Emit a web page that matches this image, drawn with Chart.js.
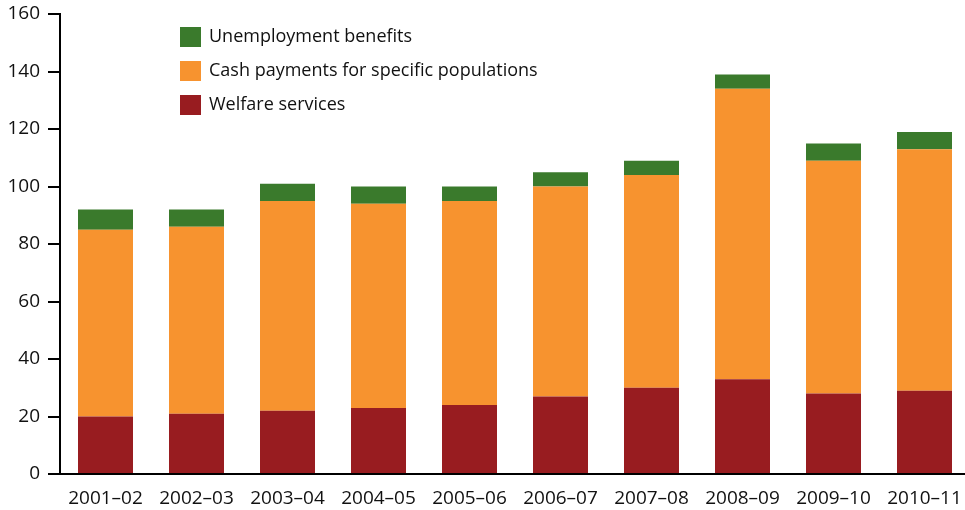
<!DOCTYPE html>
<html>
<head>
<meta charset="utf-8">
<script src="https://cdn.jsdelivr.net/npm/chart.js@4.4.1/dist/chart.umd.min.js"></script>
<style>
  html, body { margin: 0; padding: 0; background: #fff; overflow: hidden; }
  #wrap { width: 965px; height: 510px; overflow: hidden; }
</style>
</head>
<body>
<div id="wrap"><canvas id="myChart" width="970" height="510"></canvas></div>
<script>
const years = ["2001–02", "2002–03", "2003–04", "2004–05", "2005–06", "2006–07", "2007–08", "2008–09", "2009–10", "2010–11"];
const welfareServices = [20, 21, 22, 23, 24, 27, 30, 33, 28, 29];
const cashPayments = [65, 65, 73, 71, 71, 73, 74, 101, 81, 84];
const unemploymentBenefits = [7, 6, 6, 6, 5, 5, 5, 5, 6, 6];
const yTicks = [0, 20, 40, 60, 80, 100, 120, 140, 160];

const FONT = "'Open Sans', 'Noto Sans', sans-serif";

// legend drawn as a stacked list in the top-left of the plot
const stackLegend = {
    id: 'stackLegend',
    afterDraw(chart) {
        const ctx = chart.ctx;
        const sets = chart.data.datasets.slice().reverse();
        ctx.save();
        ctx.font = "18px " + FONT;
        ctx.textBaseline = 'middle';
        sets.forEach((ds, i) => {
            const y = 37 + i * 34;
            ctx.fillStyle = ds.backgroundColor;
            ctx.fillRect(180, y - 10, 21, 20);
            ctx.fillStyle = '#111';
            ctx.fillText(ds.label, 209, y);
        });
        ctx.restore();
    }
};

let ctxEL = document.getElementById("myChart").getContext('2d');
new Chart(ctxEL, {
    type: 'bar',
    data: {
        labels: years,
        datasets: [
            {label: "Welfare services", data: welfareServices, backgroundColor: '#981C20'},
            {label: "Cash payments for specific populations", data: cashPayments, backgroundColor: '#F7932F'},
            {label: "Unemployment benefits", data: unemploymentBenefits, backgroundColor: '#3A7A2C'}
        ]
    },
    options: {
        responsive: false,
        animation: false,
        layout: {padding: {top: 14, right: 0, left: 0, bottom: 0}},
        plugins: {legend: {display: false}, tooltip: {enabled: false}},
        datasets: {bar: {categoryPercentage: 1, barPercentage: 55 / 91, borderWidth: 0}},
        scales: {
            x: {
                stacked: true,
                grid: {display: false},
                border: {color: '#000', width: 2},
                ticks: {color: '#111', font: {family: FONT, size: 19}, padding: 5, maxRotation: 0, autoSkip: false},
                afterFit: s => { s.height = 36; s.paddingLeft = 0; s.paddingRight = 0; }
            },
            y: {
                stacked: true,
                min: 0,
                max: 160,
                afterBuildTicks: s => { s.ticks = yTicks.map(v => ({value: v})); },
                grid: {drawOnChartArea: false, drawTicks: true, tickLength: 12, color: '#000', lineWidth: 2},
                border: {color: '#000', width: 2},
                ticks: {color: '#111', font: {family: FONT, size: 19}, padding: 8},
                afterFit: s => { s.width = 60; s.paddingTop = 0; s.paddingBottom = 0; }
            }
        }
    },
    plugins: [stackLegend]
});
</script>
</body>
</html>
